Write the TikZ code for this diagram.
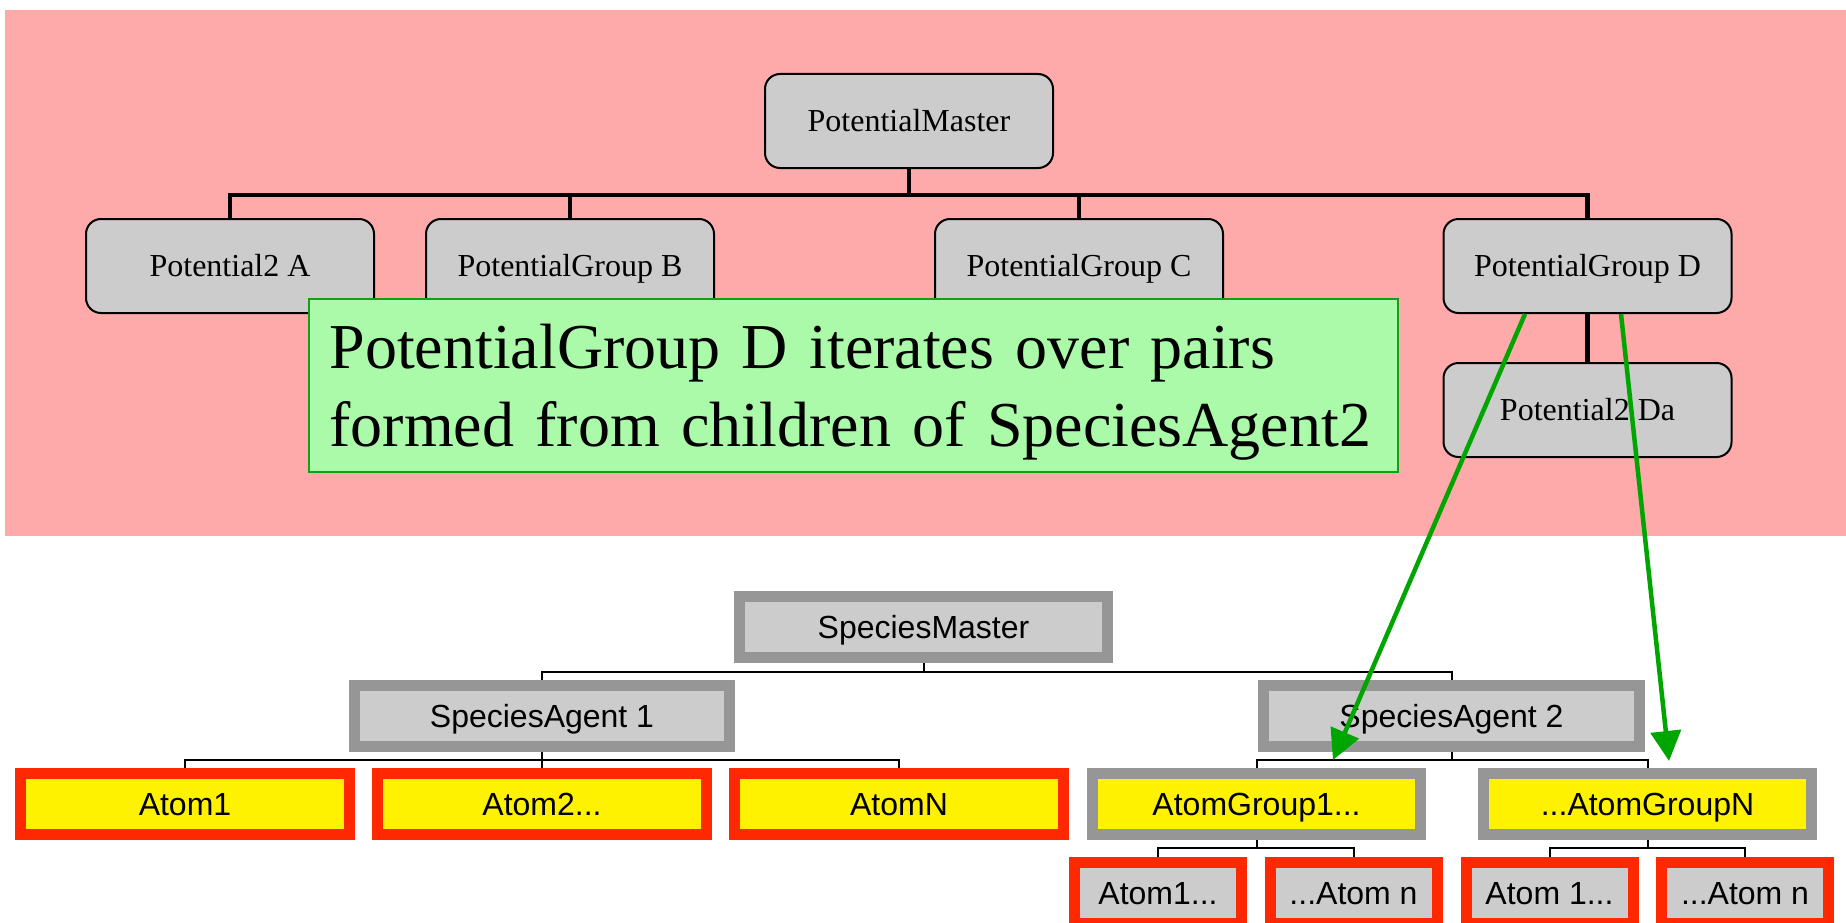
\documentclass[tikz,border=0pt]{standalone}
\usepackage{fontspec}
\setmainfont{Liberation Serif}
\setsansfont{Liberation Sans}
\usetikzlibrary{arrows.meta}
\definecolor{bgpink}{RGB}{255,170,170}
\definecolor{boxgray}{RGB}{204,204,204}
\definecolor{framegray}{RGB}{150,150,150}
\definecolor{atomred}{RGB}{255,40,0}
\definecolor{notefill}{RGB}{170,250,170}
\definecolor{notedraw}{RGB}{20,160,20}
\definecolor{linkgreen}{RGB}{0,165,0}
\tikzset{
  potbox/.style = {draw, line width=2pt, rounded corners=15pt, fill=boxgray,
    minimum width=288pt, minimum height=94pt,
    font=\fontsize{32}{38}\selectfont, text height=21pt, text depth=0pt},
  specbox/.style = {draw=framegray, line width=11pt, fill=boxgray, inner sep=0pt,
    minimum height=61pt,
    font=\sffamily\fontsize{32}{38}\selectfont, text height=23pt, text depth=0pt},
  atombox/.style = {specbox, draw=atomred, fill=yellow, minimum width=329pt},
  groupbox/.style = {specbox, fill=yellow, minimum width=328pt},
  leafbox/.style = {specbox, draw=atomred, minimum width=167pt},
  note/.style = {draw=notedraw, line width=2pt, fill=notefill, align=left,
    text width=1047pt, inner xsep=21pt, inner ysep=0pt, minimum height=173pt,
    font=\fontsize{64}{78}\selectfont, text height=57pt},
  branch/.style = {line width=4.5pt},
  twig/.style = {line width=2pt},
  link/.style = {->, line width=4.5pt, draw=linkgreen}
}
\tikzset{>={Triangle[length=30pt,width=30pt]}}

\begin{document}
\begin{tikzpicture}[x=1pt,y=-1pt]
  \useasboundingbox (0,0) rectangle (1846,923);
  \fill[white] (0,0) rectangle (1846,923);
  % potentials
  \fill[bgpink] (5,10) rectangle (1846,536);
  \node (pm) at (909,121) [potbox] {PotentialMaster};
  \node (pa) at (230,266) [potbox] {Potential2 A};
  \node (pb) at (570,266) [potbox] {PotentialGroup B};
  \node (pc) at (1079,266) [potbox] {PotentialGroup C};
  \node (pd) at (1587.5,266) [potbox] {PotentialGroup D};
  \node (pda) at (1587.5,410) [potbox] {Potential2 Da};
  \foreach \c in {pa,pb,pc,pd}
    \draw[branch] (pm.south) -- ++(0,26) -| (\c.north);
  \draw[branch] (pd.south) -- (pda.north);
  % note
  \node (note) at (853,385.5) [note] {PotentialGroup D iterates over pairs\\formed from children of SpeciesAgent2};
  % species
  \node (sm) at (923.5,627) [specbox, minimum width=368pt] {SpeciesMaster};
  \node (sa1) at (542,716) [specbox, minimum width=375pt] {SpeciesAgent 1};
  \node (sa2) at (1451.5,716) [specbox, minimum width=376pt] {SpeciesAgent 2};
  \node (a1) at (185,804) [atombox] {Atom1};
  \node (a2) at (542,804) [atombox] {Atom2...};
  \node (aN) at (899,804) [atombox] {AtomN};
  \node (ag1) at (1256.5,804) [groupbox] {AtomGroup1...};
  \node (agN) at (1647.5,804) [groupbox] {...AtomGroupN};
  \node (l1) at (1158,893) [leafbox] {Atom1...};
  \node (l2) at (1353.5,893) [leafbox] {...Atom n};
  \node (l3) at (1549.5,893) [leafbox] {Atom 1...};
  \node (l4) at (1745,893) [leafbox] {...Atom n};
  \foreach \c in {sa1,sa2}
    \draw[twig] (sm.south) -- ++(0,8.5) -| (\c.north);
  \foreach \c in {a1,a2,aN}
    \draw[twig] (sa1.south) -- ++(0,8) -| (\c.north);
  \foreach \c in {ag1,agN}
    \draw[twig] (sa2.south) -- ++(0,8) -| (\c.north);
  \foreach \c in {l1,l2}
    \draw[twig] (ag1.south) -- ++(0,8) -| (\c.north);
  \foreach \c in {l3,l4}
    \draw[twig] (agN.south) -- ++(0,8) -| (\c.north);
  % pairs
  \draw[link] ([xshift=-62.5pt]pd.south) -- ([xshift=76.5pt,yshift=8pt]ag1.north);
  \draw[link] ([xshift=33.5pt]pd.south) -- ([xshift=21.5pt,yshift=7pt]agN.north);
\end{tikzpicture}
\end{document}
